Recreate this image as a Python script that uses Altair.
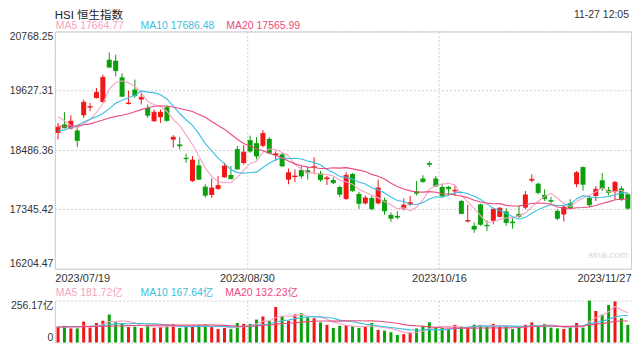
import altair as alt
import pandas as pd

# ---------------- data ----------------
x_tick_values = [-0.5, 29.5, 59.5, 89.5]
x_tick_labels = ["2023/07/19", "2023/08/30", "2023/10/16", "2023/11/27"]
y_tick_values = [16204.47, 17345.42, 18486.36, 19627.31, 20768.25]
vol_tick_values = [0, 256.17]
vol_tick_labels = ["0", "256.17亿"]

opens = [18818, 18979, 18902, 18864, 19157, 19305, 19489, 19412, 20225, 20206,
         19886, 19374, 19650, 19458, 19297, 19042, 19119, 19311, 18688, 18596,
         18339, 17892, 18193, 17783, 17624, 17739, 17963, 18007, 18506, 18237,
         18678, 18620, 18569, 18703, 18390, 18404, 17917, 17968, 18103, 18097,
         18147, 18036, 17926, 17911, 17777, 17547, 18026, 17643, 17461, 17566,
         17461, 17522, 17240, 17221, 17349, 17437, 17694, 17940, 18237, 17940,
         17777, 17777, 17691, 17508, 17112, 17029, 17441, 17048, 17125, 17202,
         17307, 17110, 17259, 17380, 17898, 17840, 17624, 17522, 17317, 17246,
         17466, 17829, 18160, 17566, 17604, 17905, 17720, 17677, 17748, 17637]
highs = [19010, 19215, 19157, 18946, 19458, 19393, 19681, 19938, 20365, 20321,
         19968, 19631, 19842, 19618, 19363, 19267, 19267, 19349, 18774, 18735,
         18415, 18371, 18308, 17829, 17940, 17988, 18243, 18180, 18563, 18582,
         18764, 18735, 18870, 18735, 18467, 18435, 18132, 18112, 18185, 18170,
         18348, 18084, 17988, 17963, 17802, 18059, 18045, 17685, 17614, 17604,
         17915, 17572, 17284, 17311, 17556, 17604, 17892, 18003, 18275, 17988,
         17844, 17796, 17802, 17522, 17437, 17096, 17457, 17138, 17368, 17393,
         17368, 17188, 17412, 17700, 18020, 17859, 17733, 17585, 17349, 17412,
         17541, 18084, 18170, 17604, 17796, 18045, 17777, 17892, 17796, 17668]
lows = [18692, 18902, 18883, 18544, 19105, 19234, 19477, 19393, 20064, 19905,
        19502, 19363, 19489, 19363, 19105, 19029, 19010, 19033, 18534, 18500,
        18243, 17873, 17911, 17572, 17566, 17720, 17955, 17925, 18116, 18208,
        18435, 18308, 18544, 18415, 18275, 18166, 17829, 17873, 17936, 17917,
        18020, 17879, 17815, 17829, 17581, 17528, 17685, 17355, 17438, 17332,
        17441, 17240, 17106, 17157, 17326, 17412, 17614, 17859, 18160, 17771,
        17572, 17629, 17604, 17253, 17092, 16895, 17029, 16933, 17062, 17188,
        17029, 16972, 17182, 17349, 17869, 17637, 17508, 17457, 17138, 17112,
        17349, 17771, 17706, 17393, 17508, 17700, 17614, 17537, 17508, 17336]
closes = [18927, 18914, 19042, 18672, 19407, 19324, 19598, 19886, 20083, 20014,
          19522, 19393, 19535, 19502, 19157, 19215, 19215, 19056, 18735, 18567,
          18320, 18295, 17925, 17618, 17758, 17806, 18180, 17936, 18122, 18448,
          18467, 18371, 18807, 18435, 18415, 18180, 18051, 17988, 17988, 18051,
          18166, 17915, 17953, 17857, 17637, 18003, 17706, 17461, 17566, 17355,
          17758, 17317, 17173, 17196, 17428, 17476, 17656, 17879, 18212, 17796,
          17604, 17742, 17714, 17265, 17133, 16966, 17058, 17029, 17349, 17368,
          17092, 17087, 17211, 17624, 17925, 17668, 17551, 17503, 17173, 17393,
          17368, 18051, 17829, 17432, 17733, 17752, 17671, 17867, 17541, 17368]
volumes = [97, 102, 86, 86, 128, 91, 119, 133, 171, 124,
           116, 94, 97, 89, 108, 89, 94, 102, 111, 89,
           97, 97, 108, 108, 94, 82, 89, 82, 119, 114,
           114, 140, 159, 133, 217, 159, 133, 171, 179, 154,
           148, 123, 108, 89, 102, 106, 99, 89, 97, 119,
           77, 72, 63, 46, 51, 60, 86, 102, 123, 91,
           89, 82, 108, 97, 94, 108, 108, 97, 114, 97,
           97, 82, 91, 108, 123, 97, 114, 91, 86, 82,
           94, 119, 91, 256.17, 193, 171, 230, 251, 148, 108]

ma5 = [19130, 19050, 18960, 18910, 18992, 19072, 19209, 19377, 19660, 19781,
       19821, 19780, 19709, 19593, 19422, 19360, 19325, 19229, 19076, 18958,
       18779, 18595, 18368, 18145, 17983, 17880, 17857, 17860, 17960, 18098,
       18231, 18269, 18443, 18506, 18499, 18442, 18378, 18214, 18124, 18052,
       18049, 18022, 18015, 17988, 17906, 17873, 17831, 17733, 17675, 17618,
       17569, 17491, 17434, 17360, 17374, 17318, 17386, 17527, 17730, 17804,
       17829, 17847, 17814, 17624, 17492, 17364, 17227, 17090, 17107, 17154,
       17179, 17185, 17221, 17276, 17388, 17503, 17596, 17654, 17564, 17458,
       17398, 17498, 17563, 17615, 17683, 17759, 17683, 17691, 17713, 17640]
ma10 = [18860, 18870, 18920, 18960, 19025, 19080, 19130, 19190, 19285, 19387,
        19446, 19494, 19543, 19626, 19601, 19591, 19552, 19469, 19334, 19190,
        19070, 18960, 18799, 18610, 18470, 18330, 18226, 18114, 18053, 18041,
        18056, 18063, 18151, 18233, 18299, 18336, 18323, 18328, 18315, 18275,
        18245, 18200, 18114, 18056, 17979, 17961, 17926, 17874, 17832, 17762,
        17721, 17661, 17583, 17517, 17496, 17444, 17439, 17480, 17545, 17589,
        17574, 17616, 17670, 17677, 17648, 17597, 17537, 17452, 17366, 17323,
        17272, 17206, 17156, 17192, 17271, 17341, 17390, 17438, 17420, 17423,
        17450, 17547, 17609, 17589, 17570, 17579, 17591, 17627, 17664, 17661]
ma20 = [18950, 18945, 18950, 18950, 18975, 18990, 19025, 19065, 19104, 19135,
        19155, 19185, 19225, 19265, 19300, 19330, 19340, 19330, 19315, 19288,
        19258, 19227, 19171, 19118, 19036, 18960, 18889, 18792, 18694, 18615,
        18563, 18511, 18475, 18422, 18385, 18333, 18275, 18221, 18184, 18158,
        18150, 18131, 18133, 18145, 18139, 18149, 18125, 18101, 18073, 18019,
        17983, 17930, 17849, 17787, 17737, 17702, 17683, 17677, 17688, 17676,
        17647, 17639, 17627, 17597, 17572, 17520, 17488, 17466, 17455, 17456,
        17423, 17411, 17413, 17434, 17459, 17469, 17464, 17445, 17393, 17373,
        17361, 17376, 17382, 17391, 17421, 17460, 17490, 17532, 17542, 17542]

vma5 = [92, 95, 96, 95, 99.8, 98.6, 102, 111.4, 128.4, 127.6,
        132.6, 127.6, 120.4, 104, 100.8, 95.4, 95.4, 96.4, 100.8, 97,
        98.6, 99.2, 100.4, 99.8, 100.8, 97.8, 96.2, 91, 93.2, 97.2,
        103.6, 113.8, 129.2, 132, 152.6, 161.6, 160.2, 162.6, 171.8, 159.2,
        157, 155, 142.4, 124.4, 114, 105.6, 100.8, 97, 98.6, 102,
        96.2, 90.8, 85.6, 75.4, 61.8, 58.4, 61.2, 69, 84.4, 92.4,
        98.2, 97.4, 98.6, 93.4, 94, 97.8, 103, 100.8, 104.2, 104.8,
        102.6, 97.4, 96.2, 95, 100.2, 100.2, 106.6, 106.6, 102.2, 94,
        93.4, 94.4, 94.4, 128.4, 150.6, 166, 188.2, 220.2, 198.6, 181.6]
vma10 = [95, 96, 96, 97, 98, 99, 101, 104, 110, 113.7,
         115.6, 114.8, 115.9, 116.2, 114.2, 114, 111.5, 108.4, 102.4, 98.9,
         97, 97.3, 98.4, 100.3, 98.9, 98.2, 97.7, 95.7, 96.5, 99,
         100.7, 105, 110.1, 112.6, 124.9, 132.6, 137, 145.9, 151.9, 155.9,
         159.3, 157.6, 152.5, 148.1, 136.6, 131.3, 127.9, 119.7, 111.5, 108,
         100.9, 95.8, 91.3, 87, 81.9, 77.3, 76, 77.3, 79.9, 77.1,
         78.3, 79.3, 83.8, 88.9, 93.2, 98, 100.2, 99.7, 98.8, 99.4,
         100.2, 100.2, 98.5, 99.6, 102.5, 101.4, 102, 101.4, 98.6, 97.1,
         96.8, 100.5, 100.5, 115.3, 122.3, 129.7, 141.3, 157.3, 163.5, 166.1]
vma20 = [95, 95, 96, 96, 97, 97, 98, 99, 100, 101,
         102, 103, 104, 105, 105, 106, 106, 106, 106, 106.3,
         106.3, 106, 107.2, 108.3, 106.6, 106.1, 104.6, 102, 99.5, 99,
         98.9, 101.2, 104.3, 106.5, 111.9, 115.4, 117.4, 120.8, 124.2, 127.5,
         130, 131.3, 131.3, 130.4, 130.8, 132, 132.5, 132.8, 131.7, 132,
         130.1, 126.7, 121.9, 117.6, 109.3, 104.3, 102, 98.5, 95.7, 92.6,
         89.6, 87.6, 87.6, 88, 87.6, 87.7, 88.1, 88.5, 89.4, 88.3,
         89.3, 89.8, 91.2, 94.3, 97.9, 99.7, 101.1, 100.6, 98.7, 98.3,
         98.5, 100.4, 99.5, 107.5, 112.4, 115.6, 121.7, 129.4, 131.1, 131.6]

title_text = "HSI 恒生指数"
time_text = "11-27 12:05"
ma_names = ["MA5", "MA10", "MA20"]
price_legend = ["MA5 17664.77", "MA10 17686.48", "MA20 17565.99"]
vol_legend = ["MA5 181.72亿", "MA10 167.64亿", "MA20 132.23亿"]
watermark = "sina.com"

# ---------------- style ----------------
RED = "#f21616"
GREEN = "#0ba00b"
MA_COLORS = ["#f7a3c5", "#3bbfe2", "#eb4a7e"]
GRID = "#cfcfcf"
FRAME = "#cccccc"
FONT = "Liberation Sans, Noto Sans CJK SC, sans-serif"
W, H_MAIN, H_VOL, GAP = 578, 238, 42, 32

n = len(closes)
idx = list(range(n))
df = pd.DataFrame({"idx": idx, "open": opens, "high": highs, "low": lows,
                   "close": closes, "vol": volumes})
ma_df = pd.DataFrame({"idx": idx * 3,
                      "series": [ma_names[0]] * n + [ma_names[1]] * n + [ma_names[2]] * n,
                      "value": ma5 + ma10 + ma20})
vma_df = pd.DataFrame({"idx": idx * 3,
                       "series": [ma_names[0]] * n + [ma_names[1]] * n + [ma_names[2]] * n,
                       "value": vma5 + vma10 + vma20})

up_color = alt.condition("datum.close >= datum.open", alt.value(RED), alt.value(GREEN))
ma_color = alt.Color("series:N", scale=alt.Scale(domain=ma_names, range=MA_COLORS), legend=None)


def expr_labels(values, labels):
    e = ""
    for v, lab in zip(values[:-1], labels[:-1]):
        e += f"abs(datum.value - ({v})) < 0.5 ? '{lab}' : "
    return e + f"'{labels[-1]}'"


xscale = alt.Scale(domain=[x_tick_values[0], x_tick_values[-1]], nice=False, zero=False, padding=0)
x_axis_main = alt.Axis(values=x_tick_values, labelExpr=expr_labels(x_tick_values, x_tick_labels),
                       labelFlush=True, grid=True, gridDash=[2, 2], gridColor=GRID,
                       domain=False, ticks=False, labelPadding=4, labelFontSize=11,
                       labelFont=FONT, labelColor="#333333", title=None)
x_axis_vol = alt.Axis(values=x_tick_values[1:-1], labels=False, grid=True, gridDash=[2, 2],
                      gridColor=GRID, domain=False, ticks=False, title=None)
yscale = alt.Scale(domain=[y_tick_values[0], y_tick_values[-1]], nice=False, zero=False, padding=0)
y_axis_main = alt.Axis(values=y_tick_values, format=".2f", labelFlush=True, grid=True,
                       gridDash=[2, 2], gridColor=GRID, domain=False, ticks=False,
                       labelPadding=2, labelFontSize=10.5, labelFont=FONT,
                       labelColor="#333333", title=None)
vscale = alt.Scale(domain=[vol_tick_values[0], vol_tick_values[-1]], nice=False, padding=0)
y_axis_vol = alt.Axis(values=vol_tick_values, labelExpr=expr_labels(vol_tick_values, vol_tick_labels),
                      labelFlush=True, grid=True, gridDash=[2, 2], gridColor=GRID,
                      domain=True, domainColor=FRAME, ticks=False, labelPadding=2,
                      labelFontSize=10.5, labelFont=FONT, labelColor="#333333", title=None)


def X(ax):
    return alt.X("idx:Q", scale=xscale, axis=ax)


def text_layer(txt, x, y, color, size, align="left", baseline="middle"):
    return alt.Chart(alt.Data(values=[{}])).mark_text(
        text=txt, align=align, baseline=baseline, fontSize=size, font=FONT, color=color
    ).encode(x=alt.value(x), y=alt.value(y))


base = alt.Chart(df)
wicks = base.mark_rule(strokeWidth=1).encode(
    x=X(x_axis_main), y=alt.Y("low:Q", scale=yscale, axis=y_axis_main), y2="high:Q", color=up_color)
bodies = base.mark_bar(width=5).encode(
    x=X(x_axis_main), y=alt.Y("open:Q", scale=yscale, axis=y_axis_main), y2="close:Q", color=up_color)
dojis = base.mark_tick(orient="horizontal", size=5, thickness=1).encode(
    x=X(x_axis_main), y=alt.Y("close:Q", scale=yscale, axis=y_axis_main), color=up_color)
ma_lines = alt.Chart(ma_df).mark_line(strokeWidth=1.1).encode(
    x=X(x_axis_main), y=alt.Y("value:Q", scale=yscale, axis=y_axis_main), color=ma_color)

main = alt.layer(
    wicks, bodies, dojis, ma_lines,
    text_layer(title_text, 0, -22, "#222222", 11.5, baseline="top"),
    text_layer(time_text, W - 2, -22, "#333333", 10.5, align="right", baseline="top"),
    text_layer(price_legend[0], 1, -5, MA_COLORS[0], 10.5),
    text_layer(price_legend[1], 86, -5, MA_COLORS[1], 10.5),
    text_layer(price_legend[2], 172, -5, MA_COLORS[2], 10.5),
    text_layer(watermark, W - 3, 224, "#d6d6d6", 10, align="right"),
).properties(width=W, height=H_MAIN, view=alt.ViewBackground(stroke=FRAME, strokeWidth=1))

vbars = alt.Chart(df).mark_bar(width=3).encode(
    x=X(x_axis_vol), y=alt.Y("vol:Q", scale=vscale, axis=y_axis_vol, stack=None), color=up_color)
vlines = alt.Chart(vma_df).mark_line(strokeWidth=1.1).encode(
    x=X(x_axis_vol), y=alt.Y("value:Q", scale=vscale, axis=y_axis_vol), color=ma_color)

vol = alt.layer(
    vbars, vlines,
    text_layer(vol_legend[0], 1, -8, MA_COLORS[0], 10.5),
    text_layer(vol_legend[1], 86, -8, MA_COLORS[1], 10.5),
    text_layer(vol_legend[2], 171, -8, MA_COLORS[2], 10.5),
).properties(width=W, height=H_VOL, view=alt.ViewBackground(strokeOpacity=0))

chart = alt.vconcat(main, vol, spacing=GAP, bounds="flush").properties(
    padding={"left": 0, "top": 0, "right": 0, "bottom": 0}
)

chart.save("out.html", embed_options={"renderer": "svg", "actions": False})
